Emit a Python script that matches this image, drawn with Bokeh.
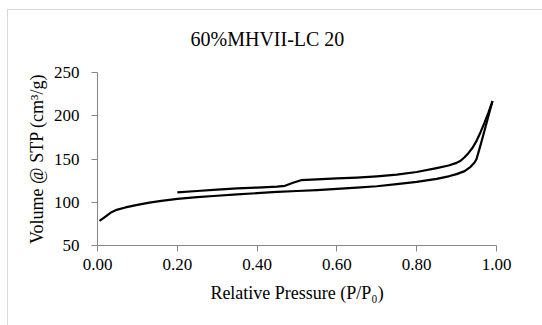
from bokeh.plotting import figure
from bokeh.models import Range1d, FixedTicker, CustomJSTickFormatter, InlineStyleSheet
from bokeh.embed import file_html
from bokeh.resources import INLINE

# Adsorption branch (lower)
p_ads = [0.005, 0.02, 0.035, 0.05, 0.07, 0.10, 0.13, 0.16, 0.20, 0.25, 0.30, 0.35,
         0.40, 0.45, 0.50, 0.55, 0.60, 0.65, 0.70, 0.75, 0.80, 0.85, 0.88, 0.90,
         0.92, 0.935, 0.945, 0.95, 0.96, 0.97, 0.98, 0.99]
v_ads = [78.5, 83.5, 88.5, 91.5, 94.0, 97.0, 99.5, 101.5, 104.0, 106.0, 107.5, 109.0,
         110.5, 112.0, 113.0, 114.0, 115.5, 117.0, 118.5, 121.0, 123.5, 127.0, 130.0, 132.5,
         136.0, 141.0, 146.0, 150.0, 166.0, 183.0, 200.0, 217.0]

# Desorption branch (upper)
p_des = [0.99, 0.98, 0.97, 0.96, 0.95, 0.94, 0.93, 0.92, 0.91, 0.90, 0.88, 0.85,
         0.80, 0.75, 0.70, 0.65, 0.60, 0.55, 0.51, 0.49, 0.47, 0.45, 0.40, 0.35,
         0.30, 0.25, 0.20]
v_des = [217.0, 204.0, 192.0, 181.0, 171.0, 163.0, 157.0, 152.0, 148.0, 145.5, 142.5, 139.5,
         135.0, 132.0, 130.0, 128.5, 127.5, 126.5, 125.5, 122.5, 119.0, 118.0, 117.0, 116.0,
         114.5, 113.0, 111.5]

x_ticks = [0.0, 0.2, 0.4, 0.6, 0.8, 1.0]
y_ticks = [50, 100, 150, 200, 250]

FONT = "Liberation Serif"
AXIS_COLOR = "#868686"

sheet = InlineStyleSheet(css="""
:host { position: relative; }
:host::after {
  content: "";
  position: absolute;
  left: 7px; top: 9px; right: 0px; bottom: 0px;
  border-left: 1px solid #d9d9d9;
  border-top: 1px solid #d9d9d9;
  pointer-events: none;
}
""")

p = figure(width=542, height=325, output_backend="svg", toolbar_location=None,
           x_range=Range1d(0, 1), y_range=Range1d(50, 250),
           title="60%MHVII-LC 20",
           min_border_left=97, min_border_right=46, min_border_top=72, min_border_bottom=80,
           stylesheets=[sheet])

p.outline_line_color = None
p.background_fill_color = "white"
p.border_fill_color = "white"
p.xgrid.visible = False
p.ygrid.visible = False

p.title.align = "left"
p.title.text_font = FONT
p.title.text_font_size = "20px"
p.title.text_font_style = "normal"
p.title.text_color = "black"
p.title.standoff = 45
p.title.offset = 93

for ax in (p.xaxis[0], p.yaxis[0]):
    ax.axis_line_color = AXIS_COLOR
    ax.major_tick_line_color = AXIS_COLOR
    ax.minor_tick_line_color = None
    ax.major_tick_in = 0
    ax.major_tick_out = 6
    ax.major_label_text_font = FONT
    ax.major_label_text_font_size = "17px"
    ax.major_label_text_color = "black"
    ax.axis_label_text_font = FONT
    ax.axis_label_text_font_size = "18px"
    ax.axis_label_text_font_style = "normal"
    ax.axis_label_text_color = "black"

p.xaxis[0].ticker = FixedTicker(ticks=x_ticks)
p.yaxis[0].ticker = FixedTicker(ticks=y_ticks)
p.xaxis[0].formatter = CustomJSTickFormatter(code="return tick.toFixed(2);")
p.xaxis[0].axis_label = "Relative Pressure (P/P\u2080)"
p.yaxis[0].axis_label = "Volume @ STP (cm\u00b3/g)"
p.xaxis[0].major_label_standoff = 7
p.yaxis[0].major_label_standoff = 12
p.xaxis[0].axis_label_standoff = 10
p.yaxis[0].axis_label_standoff = 4

p.line(p_ads, v_ads, line_color="black", line_width=2.2, line_join="round")
p.line(p_des, v_des, line_color="black", line_width=2.2, line_join="round")

open("out.html", "w").write(file_html(p, INLINE))
